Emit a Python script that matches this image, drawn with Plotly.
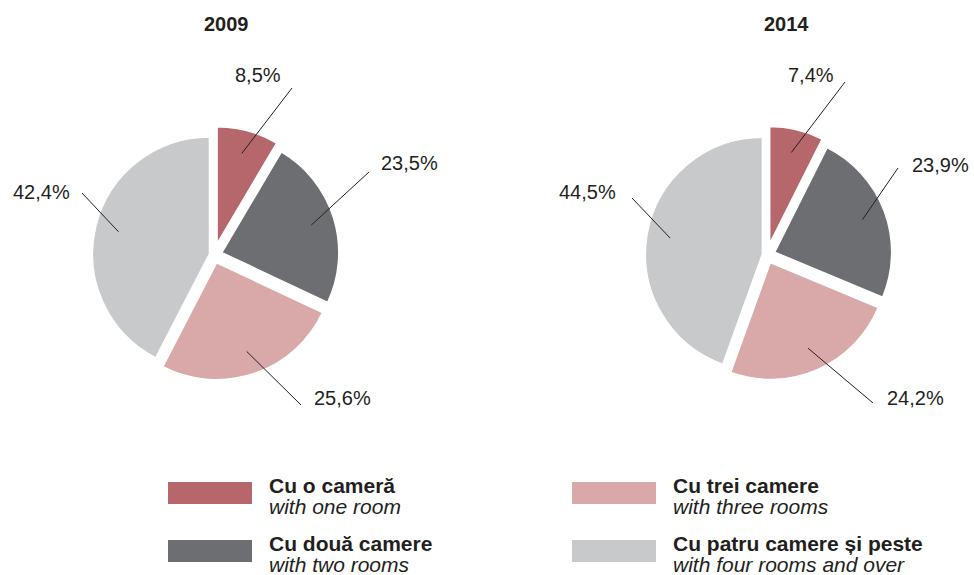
import math
import plotly.graph_objects as go

W, H = 974, 575

years = ["2009", "2014"]
rooms_ro = ["Cu o cameră", "Cu două camere", "Cu trei camere", "Cu patru camere și peste"]
rooms_en = ["with one room", "with two rooms", "with three rooms", "with four rooms and over"]
share_2009 = [8.5, 23.5, 25.6, 42.4]
share_2014 = [7.4, 23.9, 24.2, 44.5]
colors = ["#b5676c", "#6d6e72", "#d9a9aa", "#c8c9cb"]

shares = [share_2009, share_2014]

# layout (pixels)
FONT = "Liberation Sans, Arial, Helvetica, sans-serif"
TXT = "#231f20"
centers = [(214, 255), (767, 255)]
title_x = [226, 786]
R = 117
pulls = [0.1, 0.07, 0.07, 0.04]
# per label: text centre, line end (relative to pie centre)
label_pos = [
    [((44, -180), (78, -167)), ((195, -92), (155, -83)), ((128, 143), (87, 150)), ((-173, -63), (-132, -62))],
    [((44, -180), (78, -173)), ((173, -90), (131, -87)), ((148, 143), (106, 148)), ((-180, -63), (-135, -57))],
]


def px(x):
    return x / W


def py(y):
    return 1 - y / H


def note(x, y, text, anchor="center", size=20):
    return dict(x=px(x), y=py(y), xref="paper", yref="paper", xanchor=anchor, yanchor="middle",
                text=text, showarrow=False, font=dict(size=size, color=TXT, family=FONT))


fig = go.Figure()
shapes, annotations = [], []
half = R * (1 + max(pulls))

for i, (year, vals) in enumerate(zip(years, shares)):
    cx, cy = centers[i]
    fig.add_trace(go.Pie(
        values=vals, labels=rooms_ro, sort=False, direction="clockwise", rotation=0,
        marker=dict(colors=colors, line=dict(color="white", width=1.5)),
        pull=pulls, textinfo="none", hoverinfo="label+percent", showlegend=False,
        domain=dict(x=[px(cx - half), px(cx + half)], y=[py(cy + half), py(cy - half)]),
    ))
    annotations.append(note(title_x[i], 24, f"<b>{year}</b>"))
    total = sum(vals)
    acc = 0
    for j, v in enumerate(vals):
        mid = math.radians((acc + v / 2) / total * 360)
        acc += v
        dx, dy = math.sin(mid), -math.cos(mid)
        r0 = R * (pulls[j] + 0.8)
        sx, sy = cx + r0 * dx, cy + r0 * dy
        (tx, ty), (ex, ey) = label_pos[i][j]
        shapes.append(dict(type="line", xref="paper", yref="paper",
                           x0=px(sx), y0=py(sy), x1=px(cx + ex), y1=py(cy + ey),
                           line=dict(color=TXT, width=1)))
        annotations.append(note(cx + tx, cy + ty, f"{v:.1f}%".replace(".", ",")))

# legend drawn by hand: two columns, two rows
leg_x = [168, 572]
leg_y = [482, 540]
for k in range(len(rooms_ro)):
    x0, y0 = leg_x[k // 2], leg_y[k % 2]
    shapes.append(dict(type="rect", xref="paper", yref="paper", x0=px(x0), x1=px(x0 + 84),
                       y0=py(y0 + 22), y1=py(y0), fillcolor=colors[k], line=dict(width=0)))
    annotations.append(note(x0 + 99, y0 + 3, f"<b>{rooms_ro[k]}</b>", "left", 21))
    annotations.append(note(x0 + 99, y0 + 24, f"<i>{rooms_en[k]}</i>", "left", 21))

fig.update_layout(
    width=W, height=H, margin=dict(l=0, r=0, t=0, b=0),
    paper_bgcolor="white", plot_bgcolor="white",
    shapes=shapes, annotations=annotations,
)

fig.write_html("out.html", config={"displayModeBar": False},
               post_script="document.body.style.margin='0';")
